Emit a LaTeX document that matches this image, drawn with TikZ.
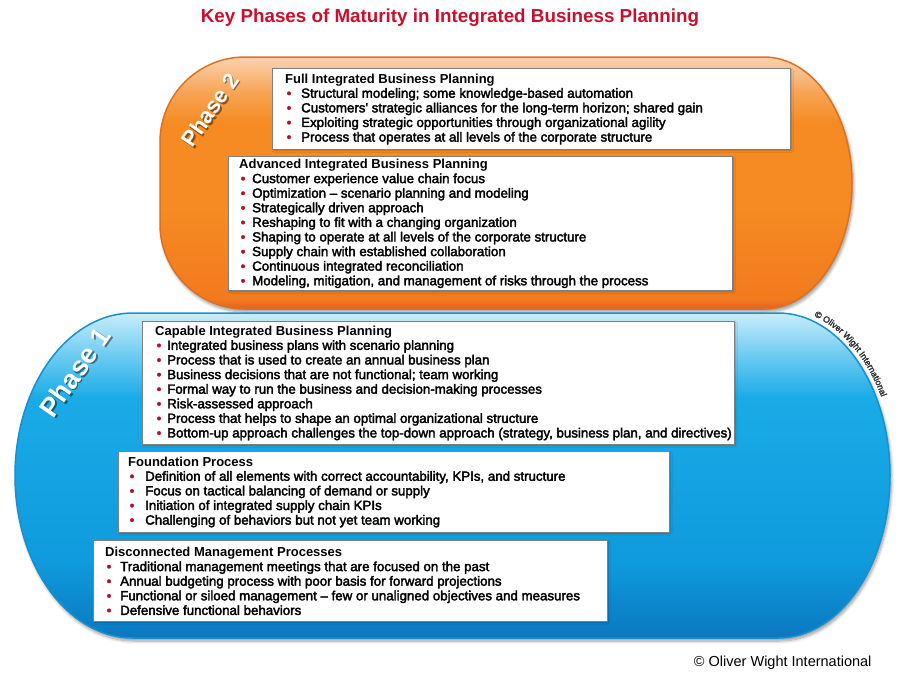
\documentclass[tikz,border=0pt]{standalone}
\usepackage{fontspec}
\setmainfont{Liberation Sans}
\newfontfamily\medfont{Liberation Sans}[FakeBold=2.5]
\usetikzlibrary{shadows.blur,decorations.text}
\definecolor{titlered}{HTML}{C8102E}
\definecolor{bulred}{HTML}{B0102A}
\definecolor{boxgray}{HTML}{808080}
\definecolor{oT}{HTML}{FBD3AE}
\definecolor{oL}{HTML}{F7A455}
\definecolor{oM}{HTML}{F58B22}
\definecolor{oB}{HTML}{F27A1E}
\definecolor{oE}{HTML}{E5601C}
\definecolor{oEdge}{HTML}{E07020}
\definecolor{bT}{HTML}{C9EDFB}
\definecolor{bL}{HTML}{66C9F1}
\definecolor{bM}{HTML}{1AABE7}
\definecolor{bM2}{HTML}{0F9BDD}
\definecolor{bB}{HTML}{0A78C0}
\definecolor{bEdge}{HTML}{1690D2}
\definecolor{cpgray}{HTML}{333333}
\pgfdeclareverticalshading{orsh}{100bp}{color(0bp)=(oE); color(25bp)=(oE); color(27bp)=(oB); color(45bp)=(oM); color(62bp)=(oM); color(68bp)=(oL); color(75bp)=(oT); color(100bp)=(oT)}
\pgfdeclareverticalshading{blsh}{100bp}{color(0bp)=(bB); color(25bp)=(bB); color(37bp)=(bM2); color(62bp)=(bM); color(68bp)=(bL); color(75bp)=(bT); color(100bp)=(bT)}
\newlength{\bw}
\newcommand\bl{\makebox[\bw][l]{\hspace{1.5pt}\textcolor{bulred}{\textbullet}}}
\newcommand\hd[1]{{\rmfamily\bfseries\fontsize{13}{14.6}\selectfont #1}}
\newcommand\cpfont{\medfont\fontsize{8.8}{8.8}\selectfont\color{cpgray}}
\begin{document}
\begin{tikzpicture}[x=1pt,y=-1pt,
  bigshadow/.style={blur shadow={shadow xshift=1.5pt, shadow yshift=-3pt, shadow blur steps=6, shadow blur radius=3pt, shadow opacity=40}},
  infobox/.style={draw=boxgray, line width=1.1pt, fill=white, anchor=north west, inner sep=0pt,
    blur shadow={shadow xshift=1pt, shadow yshift=-1pt, shadow blur steps=3, shadow blur radius=1.5pt, shadow opacity=25}},
  txt/.style={anchor=west, align=left, inner sep=0pt, font=\medfont\fontsize{13.3}{14.6}\selectfont,
    execute at begin node={\setlength{\bw}{#1}}},
  phase/.style={text=white, rotate=55, inner sep=0pt},
  phaseshadow/.style={text=black, opacity=0.45, rotate=55, inner sep=0pt}
]
\useasboundingbox (0,0) rectangle (900,678);

% title
\node[font=\bfseries\fontsize{18.8}{18.8}\selectfont, text=titlered] (title) at (450,18) {Key Phases of Maturity in Integrated Business Planning};

% phase shapes
\path[bigshadow, shading=orsh, draw=oEdge, line width=1.5pt]
  (245,57) -- (764,57) arc[start angle=-90, end angle=90, x radius=88, y radius=126]
  -- (245,309) arc[start angle=90, end angle=180, radius=85]
  -- (160,142) arc[start angle=180, end angle=270, radius=85] -- cycle;
\path[bigshadow, shading=blsh, draw=bEdge, line width=1.5pt]
  (133,313) -- (778,313) arc[start angle=-90, end angle=90, x radius=112, y radius=162.5]
  -- (133,638) arc[start angle=90, end angle=270, x radius=118, y radius=162.5] -- cycle;

% phase labels
\node[phaseshadow, font=\bfseries\fontsize{22}{22}\selectfont] (p2s) at (211.5,111.5) {Phase 2};
\node[phase, font=\bfseries\fontsize{22}{22}\selectfont] (p2) at (210,110) {Phase 2};
\node[phaseshadow, font=\bfseries\fontsize{27}{27}\selectfont] (p1s) at (76.5,373.5) {Phase 1};
\node[phase, font=\bfseries\fontsize{27}{27}\selectfont] (p1) at (75,372) {Phase 1};

% boxes
\node[infobox, minimum width=518pt, minimum height=81pt] (b1) at (272,68) {};
\node[txt=16pt] (t1) at ([xshift=13pt]b1.west) {\hd{Full Integrated Business Planning}\\
\bl Structural modeling; some knowledge-based automation\\
\bl Customers' strategic alliances for the long-term horizon; shared gain\\
\bl Exploiting strategic opportunities through organizational agility\\
\bl Process that operates at all levels of the corporate structure};

\node[infobox, minimum width=504pt, minimum height=134pt] (b2) at (228,156) {};
\node[txt=13pt] (t2) at ([xshift=11pt]b2.west) {\hd{Advanced Integrated Business Planning}\\
\bl Customer experience value chain focus\\
\bl Optimization \textendash{} scenario planning and modeling\\
\bl Strategically driven approach\\
\bl Reshaping to fit with a changing organization\\
\bl Shaping to operate at all levels of the corporate structure\\
\bl Supply chain with established collaboration\\
\bl Continuous integrated reconciliation\\
\bl Modeling, mitigation, and management of risks through the process};

\node[infobox, minimum width=592pt, minimum height=123pt] (b3) at (142,321) {};
\node[txt=12pt] (t3) at ([xshift=13pt]b3.west) {\hd{Capable Integrated Business Planning}\\
\bl Integrated business plans with scenario planning\\
\bl Process that is used to create an annual business plan\\
\bl Business decisions that are not functional; team working\\
\bl Formal way to run the business and decision-making processes\\
\bl Risk-assessed approach\\
\bl Process that helps to shape an optimal organizational structure\\
\bl Bottom-up approach challenges the top-down approach (strategy, business plan, and directives)};

\node[infobox, minimum width=551pt, minimum height=81pt] (b4) at (118,451) {};
\node[txt=17pt] (t4) at ([xshift=10pt]b4.west) {\hd{Foundation Process}\\
\bl Definition of all elements with correct accountability, KPIs, and structure\\
\bl Focus on tactical balancing of demand or supply\\
\bl Initiation of integrated supply chain KPIs\\
\bl Challenging of behaviors but not yet team working};

\node[infobox, minimum width=514pt, minimum height=81pt] (b5) at (93,540) {};
\node[txt=15pt] (t5) at ([xshift=12pt]b5.west) {\hd{Disconnected Management Processes}\\
\bl Traditional management meetings that are focused on the past\\
\bl Annual budgeting process with poor basis for forward projections\\
\bl Functional or siloed management \textendash{} few or unaligned objectives and measures\\
\bl Defensive functional behaviors};

% curved copyright
\coordinate (cc) at (778,475.5);
\path[decorate, decoration={text along path, text align=left,
  text={|\cpfont|© Oliver Wight International}}]
  (cc) ++(-72:117 and 167.5) arc[start angle=-72, end angle=0, x radius=117, y radius=167.5];

% bottom copyright
\node[font=\fontsize{14.5}{14.5}\selectfont, anchor=east] (cp) at (875,663) {© Oliver Wight International};
\end{tikzpicture}
\end{document}
